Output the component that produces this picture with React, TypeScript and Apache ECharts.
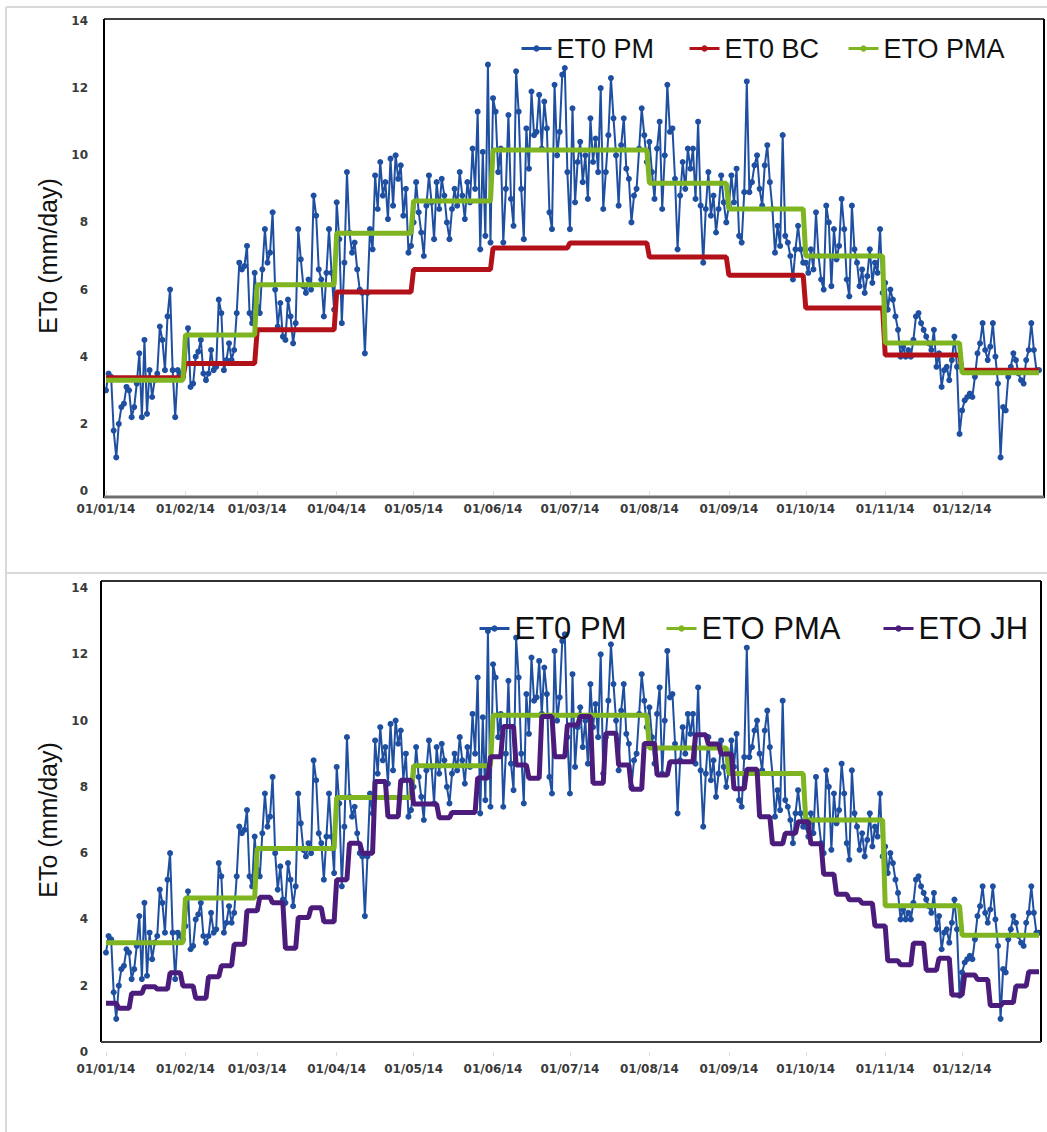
import React, { useEffect, useRef } from "react";
import * as echarts from "echarts";

// ---------- axis / tick data ----------
const monthDays = [31, 28, 31, 30, 31, 30, 31, 31, 30, 31, 30, 31];
const monthLabels = ["01/01/14", "01/02/14", "01/03/14", "01/04/14", "01/05/14", "01/06/14", "01/07/14", "01/08/14", "01/09/14", "01/10/14", "01/11/14", "01/12/14"];
const yMin = 0;
const yMax = 14;
const yStep = 2;

// ---------- daily ET0 PM (mm/day) ----------
const pmJan = [3.0, 3.5, 3.4, 1.8, 1.0, 2.0, 2.5, 2.6, 3.1, 3.0, 2.2, 2.5, 3.2, 4.1, 2.2, 4.5, 2.3, 3.6, 2.8, 3.3, 3.5, 4.9, 4.5, 3.6, 5.2, 6.0, 3.6, 2.2, 3.6, 3.5, 3.4];
const pmFeb = [3.8, 4.85, 3.1, 3.2, 4.0, 4.15, 4.5, 3.5, 3.3, 3.5, 4.2, 3.6, 3.7, 5.7, 5.3, 3.6, 3.9, 4.4, 3.9, 4.2, 5.3, 6.8, 6.6, 6.7, 7.3, 5.3, 5.0, 6.5];
const pmMar = [5.5, 5.3, 6.6, 7.8, 6.8, 7.1, 8.3, 6.0, 4.9, 5.6, 4.6, 4.5, 5.7, 5.2, 4.4, 5.0, 7.8, 6.9, 6.1, 5.9, 6.3, 6.0, 8.8, 8.2, 6.6, 6.3, 5.2, 6.5, 7.8, 6.5, 5.4];
const pmApr = [8.6, 7.5, 5.0, 6.8, 9.5, 7.7, 7.1, 7.4, 6.6, 6.0, 5.9, 4.1, 5.9, 7.8, 7.2, 9.4, 8.4, 9.8, 8.8, 9.2, 8.1, 9.9, 8.5, 10.0, 9.3, 9.7, 8.2, 9.0, 7.1, 7.3];
const pmMay = [8.0, 9.2, 8.3, 7.7, 7.0, 8.5, 9.4, 8.6, 7.5, 9.2, 8.4, 9.3, 8.8, 8.0, 7.5, 8.4, 9.0, 8.5, 9.5, 8.8, 8.1, 9.2, 8.6, 10.2, 9.0, 11.3, 7.2, 10.1, 7.6, 12.7, 7.4];
const pmJun = [11.7, 11.3, 9.5, 10.2, 7.4, 9.0, 11.2, 8.7, 7.9, 12.5, 11.3, 9.0, 7.5, 10.8, 9.6, 11.9, 10.6, 10.7, 11.8, 10.2, 11.6, 10.8, 8.3, 7.8, 12.1, 10.0, 10.7, 12.4, 12.6, 9.5];
const pmJul = [7.8, 11.4, 8.6, 9.8, 10.4, 9.2, 10.0, 8.7, 11.1, 9.8, 10.5, 9.5, 12.0, 8.4, 9.5, 10.6, 12.3, 11.1, 10.0, 8.5, 10.3, 11.1, 9.6, 9.3, 8.0, 8.8, 9.0, 10.2, 11.4, 10.6, 9.8];
const pmAug = [10.4, 9.5, 8.7, 10.2, 11.0, 8.4, 10.0, 12.1, 10.7, 10.8, 9.3, 7.2, 8.8, 9.8, 9.0, 10.2, 9.6, 10.2, 8.7, 11.0, 8.5, 6.8, 8.4, 9.5, 8.2, 8.8, 7.7, 8.4, 9.4, 8.6, 8.0];
const pmSep = [8.5, 9.4, 8.6, 9.6, 7.6, 7.4, 8.9, 12.2, 8.9, 9.2, 9.7, 10.0, 9.0, 8.5, 9.7, 10.3, 9.2, 8.4, 7.1, 7.9, 7.3, 10.6, 7.6, 7.4, 7.0, 6.3, 7.2, 7.9, 7.2, 6.8];
const pmOct = [6.8, 6.5, 7.2, 6.6, 8.3, 7.0, 6.3, 6.0, 8.5, 8.0, 6.1, 7.8, 6.9, 7.3, 8.7, 7.8, 6.3, 5.8, 8.5, 7.2, 6.8, 6.1, 6.6, 5.9, 6.4, 7.2, 6.2, 6.8, 6.5, 7.8, 5.9];
const pmNov = [6.2, 5.4, 6.0, 5.7, 5.2, 4.8, 4.0, 4.3, 4.0, 4.2, 4.0, 4.5, 5.2, 5.3, 5.0, 4.8, 4.6, 4.4, 4.2, 4.8, 3.7, 4.1, 3.1, 3.6, 3.7, 3.3, 3.9, 4.6, 3.7, 1.7];
const pmDec = [2.4, 2.7, 2.8, 2.9, 2.8, 3.4, 4.1, 4.4, 5.0, 4.2, 3.9, 4.3, 5.0, 4.0, 3.2, 1.0, 2.5, 2.4, 3.4, 3.7, 4.1, 3.9, 3.5, 3.3, 3.2, 3.9, 4.2, 5.0, 4.2, 3.6, 3.6];

// ---------- monthly ETO PMA and ET0 BC ----------
const pmaMonthly = [3.3, 4.65, 6.14, 7.68, 8.64, 10.16, 10.16, 9.17, 8.4, 7.0, 4.41, 3.52];
const bcMonthly = [3.37, 3.8, 4.8, 5.93, 6.6, 7.24, 7.39, 6.97, 6.43, 5.45, 4.05, 3.6];

// ---------- 5-day ETO JH ----------
const jhPentad = [
  1.47, 1.32, 1.77, 1.97, 1.9, 2.39, 1.99, 1.62, 2.27, 2.6, 3.25, 4.26, 4.67, 4.5, 3.13, 4.06, 4.35, 3.93, 5.2, 6.3,
  6.0, 8.16, 7.1, 8.2, 7.48, 7.48, 7.07, 7.23, 7.23, 8.27, 8.91, 9.82, 8.66, 8.26, 10.12, 8.91, 9.87, 10.12, 8.11, 9.62,
  8.66, 7.93, 9.31, 8.36, 8.76, 8.76, 9.57, 9.29, 8.99, 7.94, 8.53, 7.1, 6.28, 6.6, 6.95, 6.28, 5.36, 4.76, 4.59, 4.49,
  3.8, 2.75, 2.63, 3.28, 2.47, 2.83, 1.72, 2.32, 2.19, 1.4, 1.49, 1.99, 2.42,
];

const seriesNames = { pm: "ET0 PM", bc: "ET0 BC", pma: "ETO PMA", jh: "ETO JH" };

// ---------- derived tables ----------
const categories: string[] = [];
monthDays.forEach((n, m) => {
  for (let d = 1; d <= n; d++) {
    categories.push(`${String(d).padStart(2, "0")}/${String(m + 1).padStart(2, "0")}/14`);
  }
});
const etPm = [...pmJan, ...pmFeb, ...pmMar, ...pmApr, ...pmMay, ...pmJun, ...pmJul, ...pmAug, ...pmSep, ...pmOct, ...pmNov, ...pmDec];
const expandMonthly = (vals: number[]) => monthDays.flatMap((n, m) => Array(n).fill(vals[m]));
const pmaDaily = expandMonthly(pmaMonthly);
const bcDaily = expandMonthly(bcMonthly);
const jhDaily = categories.map((_, i) => jhPentad[Math.floor(i / 5)]);
const isMonthStart = (_i: number, v: string) => monthLabels.includes(v);

const BLUE = "#1f4fa0";
const RED = "#b3111a";
const GREEN = "#7fb520";
const PURPLE = "#4b1c7b";

export default function App() {
  const ref = useRef<HTMLDivElement>(null);
  useEffect(() => {
    if (!ref.current) return;
    const chart = echarts.init(ref.current, undefined, { renderer: "svg" });

    const xAxisBase = (gridIndex: number, margin: number) => ({
      type: "category",
      gridIndex,
      data: categories,
      boundaryGap: false,
      axisLine: { show: false },
      axisTick: { show: true, interval: isMonthStart, length: 4, lineStyle: { color: "#dcdcdc" } },
      axisLabel: {
        interval: isMonthStart,
        margin,
        fontFamily: "DejaVu Sans",
        fontWeight: "bold",
        fontSize: 12,
        color: "#3a3a3a",
      },
      splitLine: { show: false },
    });
    const yAxisBase = (gridIndex: number) => ({
      type: "value",
      gridIndex,
      min: yMin,
      max: yMax,
      interval: yStep,
      axisLine: { show: false },
      axisTick: { show: false },
      splitLine: { show: false },
      axisLabel: { margin: 18, fontFamily: "DejaVu Sans", fontWeight: "bold", fontSize: 12, color: "#3a3a3a" },
    });

    const pmSeries = (idx: number) => ({
      name: seriesNames.pm,
      type: "line",
      xAxisIndex: idx,
      yAxisIndex: idx,
      data: etPm,
      symbol: "circle",
      symbolSize: 6,
      showAllSymbol: true,
      lineStyle: { width: 2, color: BLUE },
      itemStyle: { color: BLUE },
      z: 2,
    });
    const stepSeries = (name: string, idx: number, data: number[], color: string, z: number) => ({
      name,
      type: "line",
      xAxisIndex: idx,
      yAxisIndex: idx,
      data,
      symbol: "circle",
      symbolSize: 5,
      showSymbol: false,
      lineStyle: { width: 5, color },
      itemStyle: { color },
      z,
    });

    const legend = (name: string, left: number, top: number, fontSize: number) => ({
      data: [name],
      left,
      top,
      itemWidth: 30,
      itemHeight: 8,
      selectedMode: false,
      lineStyle: { width: 3 },
      textStyle: { fontFamily: "Liberation Sans", fontSize, color: "#111" },
    });

    const line = (x1: number, y1: number, x2: number, y2: number, stroke: string, lineWidth: number) => ({
      type: "line",
      shape: { x1, y1, x2, y2 },
      style: { stroke, lineWidth },
      z: 10,
      silent: true,
    });
    const yTitle = (y: number) => ({
      type: "text",
      x: 48,
      y,
      rotation: Math.PI / 2,
      style: {
        text: "ETo (mm/day)",
        font: '25px "Liberation Sans"',
        fill: "#111",
        align: "center",
        verticalAlign: "middle",
      },
      z: 10,
    });

    chart.setOption({
      animation: false,
      backgroundColor: "#ffffff",
      grid: [
        { left: 106, width: 933, top: 21, height: 470 },
        { left: 106, width: 933, top: 588, height: 464 },
      ],
      xAxis: [xAxisBase(0, 12), xAxisBase(1, 11)],
      yAxis: [yAxisBase(0), yAxisBase(1)],
      legend: [
        legend(seriesNames.pm, 515, 30, 27),
        legend(seriesNames.bc, 683, 30, 27),
        legend(seriesNames.pma, 842, 30, 27),
        legend(seriesNames.pm, 473, 608, 31),
        legend(seriesNames.pma, 660, 608, 31),
        legend(seriesNames.jh, 877, 608, 31),
      ],
      series: [
        pmSeries(0),
        stepSeries(seriesNames.bc, 0, bcDaily, RED, 3),
        stepSeries(seriesNames.pma, 0, pmaDaily, GREEN, 4),
        pmSeries(1),
        stepSeries(seriesNames.pma, 1, pmaDaily, GREEN, 3),
        stepSeries(seriesNames.jh, 1, jhDaily, PURPLE, 4),
      ],
      graphic: [
        // outer panel borders
        line(6, 7, 1047, 7, "#d9d9d9", 2),
        line(6, 7, 6, 1132, "#d9d9d9", 2),
        line(6, 573, 1047, 573, "#d9d9d9", 2),
        // top plot frame
        line(104, 19, 1044, 19, "#404040", 2),
        line(104, 19, 104, 498, "#000000", 2),
        line(1044, 19, 1044, 498, "#000000", 2),
        line(104, 497, 1044, 497, "#6e6e6e", 3),
        // bottom plot frame
        line(101, 581, 1041, 581, "#303030", 2),
        line(101, 581, 101, 1042, "#000000", 2),
        line(1041, 581, 1041, 1042, "#000000", 2),
        line(101, 1042, 1041, 1042, "#404040", 2),
        yTitle(256),
        yTitle(820),
      ],
    });
    return () => chart.dispose();
  }, []);

  return (
    <div
      ref={ref}
      style={{ position: "absolute", left: 0, top: 0, width: 1047, height: 1132, background: "#fff" }}
    />
  );
}
